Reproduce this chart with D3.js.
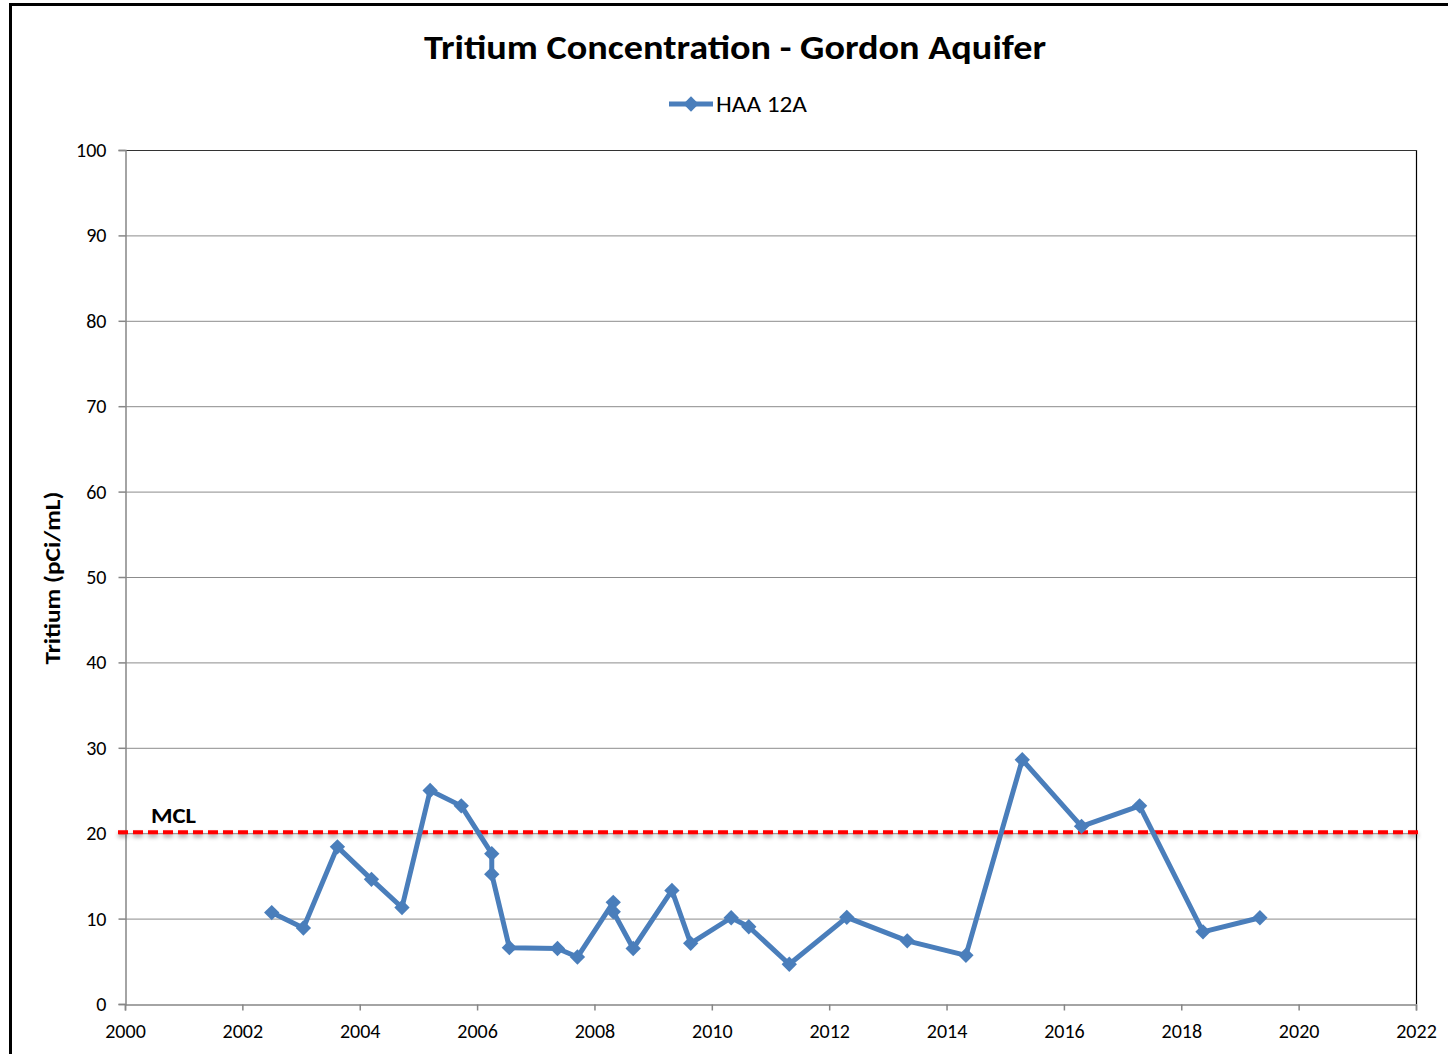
<!DOCTYPE html>
<html><head><meta charset="utf-8">
<script src="https://cdnjs.cloudflare.com/ajax/libs/d3/7.8.5/d3.min.js"></script>
<style>html,body{margin:0;padding:0;background:#fff;overflow:hidden}</style>
</head><body>
<script>
const years = [2002.50,2003.04,2003.62,2004.20,2004.72,2005.20,2005.73,2006.25,2006.25,2006.55,2007.37,2007.71,2008.32,2008.32,2008.66,2009.32,2009.64,2010.33,2010.63,2011.32,2012.30,2013.33,2014.33,2015.29,2016.30,2017.29,2018.37,2019.34];
const tritium = [10.7,8.9,18.4,14.6,11.3,25.0,23.2,17.6,15.2,6.6,6.5,5.5,11.9,10.8,6.5,13.3,7.1,10.1,9.05,4.65,10.15,7.4,5.7,28.6,20.8,23.2,8.45,10.1];
const xTicks = [2000,2002,2004,2006,2008,2010,2012,2014,2016,2018,2020,2022];
const yTicks = [0,10,20,30,40,50,60,70,80,90,100];
const mcl = 20;
const seriesName = "HAA 12A";
const title = "Tritium Concentration - Gordon Aquifer";
const yLabel = "Tritium (pCi/mL)";

const W = 1448, H = 1054;
const m = {left:125, right:W-1416, top:150, bottom:H-1004};
const svg = d3.select("body").append("svg").attr("width",W).attr("height",H);
const font = "Carlito, 'Liberation Sans', Arial, sans-serif";

svg.append("rect").attr("x",10.5).attr("y",4.5).attr("width",W+20).attr("height",H+20)
  .attr("fill","#fff").attr("stroke","#000").attr("stroke-width",3);

const x = d3.scaleLinear().domain([2000,2022]).range([m.left, W-m.right]);
const y = d3.scaleLinear().domain([0,100]).range([H-m.bottom, m.top]);

// gridlines
svg.append("g").selectAll("line").data(yTicks.filter(d=>d>0)).join("line")
  .attr("x1",x(2000)).attr("x2",x(2022)).attr("y1",d=>y(d)+0.5).attr("y2",d=>y(d)+0.5)
  .attr("stroke","#8c8c8c").attr("stroke-width",1);

// right/top border
svg.append("line").attr("x1",x(2022)+0.5).attr("x2",x(2022)+0.5).attr("y1",y(100)).attr("y2",y(0))
  .attr("stroke","#000").attr("stroke-width",1.2);
svg.append("line").attr("x1",x(2000)).attr("x2",x(2022)+1).attr("y1",y(100)+0.5).attr("y2",y(100)+0.5)
  .attr("stroke","#333").attr("stroke-width",1.2);

// axes
const yAxis = d3.axisLeft(y).tickValues(yTicks).tickSize(7).tickPadding(12).tickFormat(d3.format("d"));
const gy = svg.append("g").attr("transform",`translate(${x(2000)+0.5},0)`).call(yAxis);
const xAxis = d3.axisBottom(x).tickValues(xTicks).tickSize(6).tickPadding(13).tickFormat(d3.format("d"));
const gx = svg.append("g").attr("transform",`translate(0,${y(0)+0.5})`).call(xAxis);
[gx,gy].forEach(g=>{
  g.select(".domain").attr("stroke","#868686").attr("stroke-width",1.5);
  g.selectAll(".tick line").attr("stroke","#868686").attr("stroke-width",1.5);
  g.selectAll("text").attr("font-family",font).attr("font-size",20).attr("fill","#000");
});
gx.selectAll("text").attr("dy","0.71em");

// MCL line with shadow
const defs = svg.append("defs");
const f = defs.append("filter").attr("id","sh").attr("filterUnits","userSpaceOnUse")
  .attr("x",0).attr("y",0).attr("width",W).attr("height",H);
f.append("feGaussianBlur").attr("in","SourceAlpha").attr("stdDeviation",2).attr("result","b");
f.append("feOffset").attr("in","b").attr("dx",0).attr("dy",3).attr("result","o");
f.append("feComponentTransfer").attr("in","o").attr("result","o2").append("feFuncA").attr("type","linear").attr("slope",0.35);
const fm = f.append("feMerge"); fm.append("feMergeNode").attr("in","o2"); fm.append("feMergeNode").attr("in","SourceGraphic");
svg.append("line").attr("x1",x(2000)-7).attr("x2",x(2022)+4).attr("y1",y(mcl)-1).attr("y2",y(mcl)-1)
  .attr("stroke","#ff0000").attr("stroke-width",4).attr("stroke-dasharray","10,5").attr("filter","url(#sh)");
svg.append("text").attr("x",151).attr("y",y(mcl)-10).attr("font-family",font).attr("font-weight","bold")
  .attr("font-size",22).attr("textLength",45).attr("lengthAdjust","spacingAndGlyphs").attr("fill","#000").text("MCL");

// series
const color = "#4a7ebb";
const pts = years.map((d,i)=>[d,tritium[i]]);
svg.append("path").datum(pts).attr("fill","none").attr("stroke",color).attr("stroke-width",5)
  .attr("stroke-linejoin","round")
  .attr("d",d3.line().x(d=>x(d[0])).y(d=>y(d[1])));
const diamond = d3.symbol().type(d3.symbolDiamond2).size(150);
svg.append("g").selectAll("path").data(pts).join("path")
  .attr("transform",d=>`translate(${x(d[0])},${y(d[1])})`)
  .attr("d",diamond).attr("fill",color);

// title
svg.append("text").attr("x",735).attr("y",59).attr("text-anchor","middle")
  .attr("font-family",font).attr("font-weight","bold").attr("font-size",35)
  .attr("textLength",622).attr("lengthAdjust","spacingAndGlyphs").text(title);

// legend
svg.append("line").attr("x1",669).attr("x2",713).attr("y1",104).attr("y2",104).attr("stroke",color).attr("stroke-width",5);
svg.append("path").attr("transform","translate(691,104)").attr("d",diamond).attr("fill",color);
svg.append("text").attr("x",716).attr("y",112).attr("font-family",font).attr("font-size",23)
  .attr("textLength",91).attr("lengthAdjust","spacingAndGlyphs").text(seriesName);

// y label
svg.append("text").attr("transform","translate(60,578) rotate(-90)").attr("text-anchor","middle")
  .attr("font-family",font).attr("font-weight","bold").attr("font-size",22)
  .attr("textLength",173).attr("lengthAdjust","spacingAndGlyphs").text(yLabel);
</script>
</body></html>
